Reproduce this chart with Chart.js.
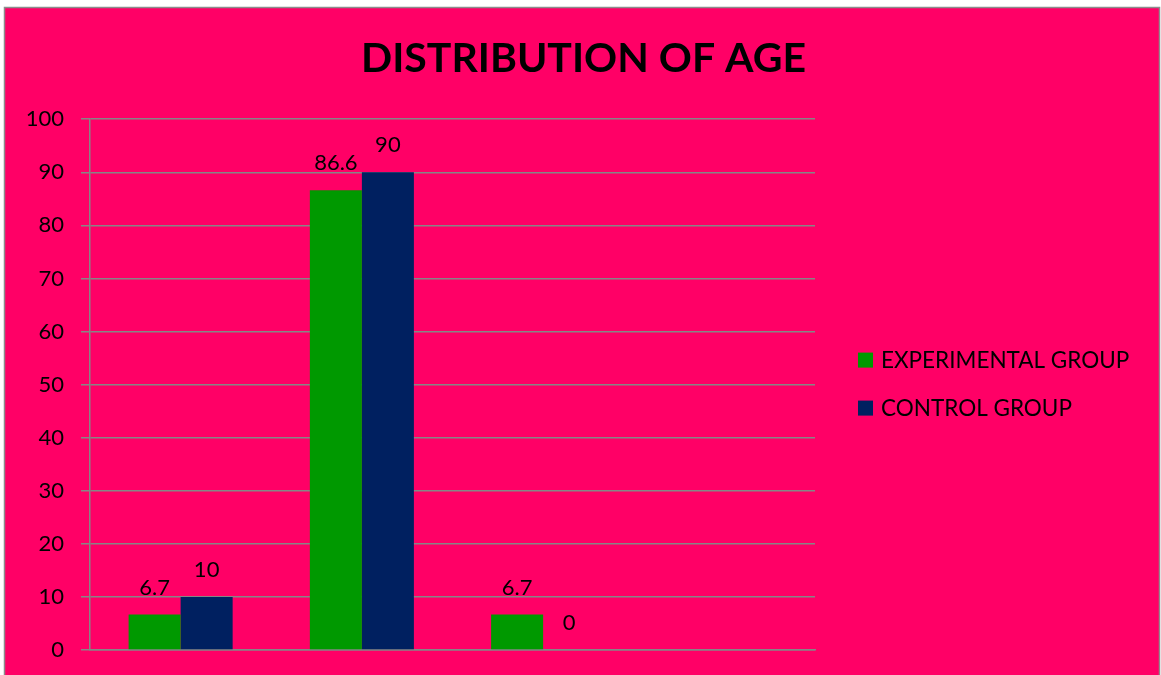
<!DOCTYPE html>
<html>
<head>
<meta charset="utf-8">
<script src="https://cdn.jsdelivr.net/npm/chart.js@4.4.0/dist/chart.umd.min.js"></script>
<style>
  html, body { margin: 0; padding: 0; background: #ffffff; overflow: hidden; }
  #wrap { width: 1161px; height: 675px; }
</style>
</head>
<body>
<div id="wrap"><canvas id="ageChart" width="1161" height="675"></canvas></div>
<script>
// datos
const categorias = ['A', 'B', 'C', 'D'];
const grupoExperimental = [6.7, 86.6, 6.7, null];
const grupoControl = [10, 90, 0, null];
const ticksY = [0, 10, 20, 30, 40, 50, 60, 70, 80, 90, 100];

const fuente = 'Lato, "Open Sans", sans-serif';

// fondo rosa con borde gris
const fondoPlugin = {
    id: 'fondo',
    beforeDraw(chart) {
        const ctx = chart.ctx;
        ctx.save();
        ctx.fillStyle = '#ffffff';
        ctx.fillRect(0, 0, chart.width, chart.height);
        ctx.fillStyle = '#FF0066';
        ctx.fillRect(5, 8, 1154, 700);
        ctx.strokeStyle = '#8c8c8c';
        ctx.lineWidth = 1.5;
        ctx.strokeRect(4.5, 7.5, 1155, 700);
        ctx.restore();
    }
};

// etiquetas de valores encima de las barras
const etiquetasPlugin = {
    id: 'etiquetas',
    afterDatasetsDraw(chart) {
        const ctx = chart.ctx;
        ctx.save();
        ctx.font = '22px ' + fuente;
        ctx.fillStyle = '#000000';
        ctx.textAlign = 'center';
        ctx.textBaseline = 'middle';
        chart.data.datasets.forEach((ds, i) => {
            chart.getDatasetMeta(i).data.forEach((bar, j) => {
                const v = ds.data[j];
                if (v === null || v === undefined) return;
                ctx.fillText(String(v), bar.x, bar.y - 27);
            });
        });
        ctx.restore();
    }
};

// leyenda a la derecha, centrada con el area del grafico
const leyendaPlugin = {
    id: 'leyenda',
    afterDraw(chart) {
        const ctx = chart.ctx;
        const area = chart.chartArea;
        const centro = (area.top + area.bottom) / 2;
        const x = area.right + 43;
        ctx.save();
        ctx.font = '22.5px ' + fuente;
        ctx.textBaseline = 'middle';
        ctx.textAlign = 'left';
        chart.data.datasets.forEach((ds, i) => {
            const y = centro - 24 + i * 48;
            ctx.fillStyle = ds.backgroundColor;
            ctx.fillRect(x, y - 8, 15, 15);
            ctx.fillStyle = '#000000';
            ctx.fillText(ds.label, x + 23, y);
        });
        ctx.restore();
    }
};

const ctx = document.getElementById('ageChart').getContext('2d');
new Chart(ctx, {
    type: 'bar',
    data: {
        labels: categorias,
        datasets: [{
            label: 'EXPERIMENTAL GROUP',
            data: grupoExperimental,
            backgroundColor: '#009900',
            borderWidth: 0
        }, {
            label: 'CONTROL GROUP',
            data: grupoControl,
            backgroundColor: '#002060',
            borderWidth: 0
        }]
    },
    options: {
        responsive: false,
        animation: false,
        categoryPercentage: 0.574,
        barPercentage: 1,
        layout: {
            padding: { left: 6, right: 0, top: 0, bottom: 25 }
        },
        plugins: {
            title: {
                display: true,
                text: 'DISTRIBUTION OF AGE',
                color: '#000000',
                font: { family: fuente, size: 41, weight: 'bold' },
                padding: { top: 34, bottom: 36 }
            },
            legend: { display: false },
            tooltip: { enabled: false }
        },
        scales: {
            x: {
                ticks: { display: false },
                grid: { display: false },
                border: { color: '#868686', width: 1.5 },
                afterFit: (scale) => { scale.height = 0; }
            },
            y: {
                min: 0,
                max: 100,
                afterBuildTicks: (axis) => {
                    axis.ticks = ticksY.map(v => ({ value: v }));
                },
                ticks: {
                    color: '#000000',
                    font: { family: fuente, size: 22 },
                    padding: 17
                },
                grid: {
                    color: '#868686',
                    lineWidth: 1.5,
                    tickLength: 9
                },
                border: { color: '#868686', width: 1.5 },
                afterFit: (scale) => {
                    scale.width = 84;
                    scale.paddingTop = 0;
                    scale.paddingBottom = 0;
                }
            },
            // eje vacio que reserva el espacio de la leyenda
            espacio: {
                type: 'linear',
                position: 'right',
                ticks: { display: false },
                grid: { display: false },
                border: { display: false },
                afterFit: (scale) => {
                    scale.width = 346;
                    scale.paddingTop = 0;
                    scale.paddingBottom = 0;
                }
            }
        }
    },
    plugins: [fondoPlugin, etiquetasPlugin, leyendaPlugin]
});
</script>
</body>
</html>
